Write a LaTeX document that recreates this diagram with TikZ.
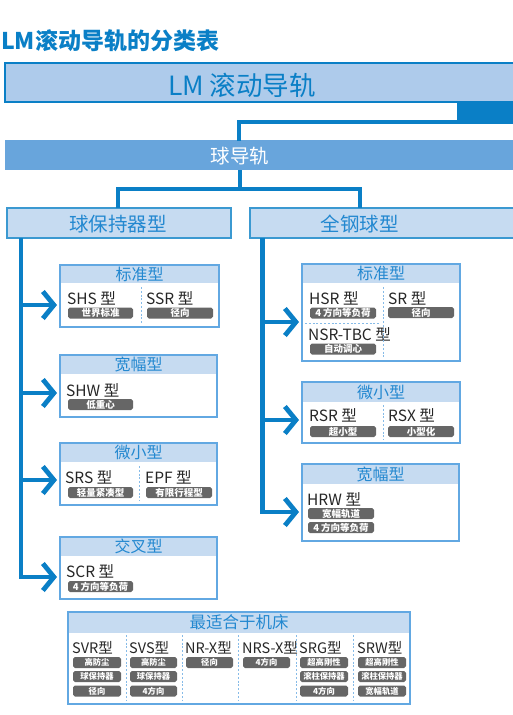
\documentclass[tikz,border=0pt]{standalone}
\usepackage{fontspec}
\setmainfont{Noto Sans CJK SC}
\usetikzlibrary{arrows.meta}
\definecolor{mblue}{HTML}{0A7FC6}
\definecolor{topfill}{HTML}{AECBEB}
\definecolor{barfill}{HTML}{68A5DC}
\definecolor{hdrfill}{HTML}{C6DBF1}
\definecolor{boxline}{HTML}{62A8E2}
\definecolor{hdrtext}{HTML}{2388D0}
\definecolor{graylab}{HTML}{666666}
\definecolor{sepblue}{HTML}{86BBE8}
\newcommand\glab[5]{\node[lab,minimum width=#4] (#1) at (#2,#3) {#5};}
\newcommand\mtxt[4]{\node[mt,anchor=west] (#1) at (#2,#3) {#4};}
\begin{document}
\begin{tikzpicture}[x=1pt,y=-1pt,
  conn/.style={draw=mblue,line width=4.6pt},
  arr/.style={conn,-{Straight Barb[length=11pt,width=27pt,line width=4.8pt]}},
  hdr/.style={fill=hdrfill,inner sep=0pt,text=hdrtext,font=\fontsize{16}{17}\selectfont},
  cbox/.style={draw=boxline,line width=1.6pt,inner sep=0pt},
  lab/.style={fill=graylab,text=white,rounded corners=1.8pt,inner sep=0pt,minimum height=11pt,font=\fontsize{9.5}{10}\selectfont\bfseries},
  blab/.style={lab,font=\fontsize{8.3}{9}\selectfont\bfseries},
  mt/.style={inner sep=0pt,font=\fontsize{15.5}{16}\selectfont,text=black!85},
  bt/.style={inner sep=0pt,font=\fontsize{14.5}{15}\selectfont,text=black!85,anchor=west},
  sep/.style={draw=sepblue,line width=0.9pt,dash pattern=on 2pt off 1.8pt}]
\useasboundingbox (0,0) rectangle (513,715);
% title
\node[anchor=west,inner sep=0pt,text=mblue,font=\fontsize{23}{24}\selectfont\bfseries] (title) at (1,41) {LM滚动导轨的分类表};
% top box
\node[draw=mblue,line width=1.6pt,fill=topfill,minimum width=525,minimum height=39,inner sep=0pt] (top) at (267.5,82.5) {};
\node[inner sep=0pt,text=mblue,font=\fontsize{26.5}{27}\selectfont] (toptxt) at (242,85) {LM 滚动导轨};
\node[fill=mblue,minimum width=60,minimum height=22,inner sep=0pt] (tab) at (487,113) {};
% ball bar
\node[fill=barfill,minimum width=520,minimum height=30,inner sep=0pt] (ball) at (265,155) {};
\node[inner sep=0pt,text=white,font=\fontsize{19.5}{20}\selectfont] (balltxt) at (240,156) {球导轨};
\coordinate (t1) at (459,122);
\coordinate (t2) at (239,141);
\draw[conn] (t1) -| (t2);
% level 2
\node[draw=mblue!80,line width=1.6pt,fill=hdrfill,minimum width=224,minimum height=30,inner sep=0pt] (qb) at (119,223) {};
\node[inner sep=0pt,text=hdrtext,font=\fontsize{19.5}{20}\selectfont] (qbtxt) at (118,224) {球保持器型};
\node[draw=mblue!80,line width=1.6pt,fill=hdrfill,minimum width=280,minimum height=30,inner sep=0pt] (qg) at (390,223) {};
\node[inner sep=0pt,text=hdrtext,font=\fontsize{19.5}{20}\selectfont] (qgtxt) at (359.5,224) {全钢球型};
\coordinate (c0) at (240,170);
\coordinate (c1) at (118,208);
\coordinate (c2) at (360,208);
\draw[conn] (c0) -- (240,189);
\draw[conn] (c1) -- ++(0,-19) -| (c2);
% ---------- left boxes
\node[hdr,minimum width=159,minimum height=18] (lstdh) at (139.5,274) {标准型};
\node[cbox,minimum width=159,minimum height=62] (lstd) at (139.5,296) {};
\mtxt{shs}{67}{298}{SHS 型}
\mtxt{ssr}{146}{298}{SSR 型}
\glab{l1}{100.5}{313}{65}{世界标准}
\glab{l2}{180}{313}{66}{径向}
\draw[sep] (141,287) -- (141,323);

\node[hdr,minimum width=157,minimum height=19] (lwideh) at (138.5,364.5) {宽幅型};
\node[cbox,minimum width=157,minimum height=62] (lwide) at (138.5,386) {};
\mtxt{shw}{66}{390}{SHW 型}
\glab{l3}{100.5}{404.5}{65}{低重心}

\node[hdr,minimum width=157,minimum height=19] (lmich) at (138.5,452.5) {微小型};
\node[cbox,minimum width=157,minimum height=62] (lmic) at (138.5,474) {};
\mtxt{srs}{65}{477}{SRS 型}
\mtxt{epf}{145}{477}{EPF 型}
\glab{l4}{100.5}{492.5}{65}{轻量紧凑型}
\glab{l5}{179}{492.5}{66}{有限行程型}
\draw[sep] (139,466) -- (139,501);

\node[hdr,minimum width=157,minimum height=19] (lcrsh) at (138.5,546.5) {交叉型};
\node[cbox,minimum width=157,minimum height=62] (lcrs) at (138.5,568) {};
\mtxt{scr}{66}{571}{SCR 型}
\glab{l6}{100.5}{586.5}{65}{4 方向等负荷}
% left trunk and arrows
\coordinate (lt) at (21,238);
\coordinate (la1) at (57,305);
\coordinate (la2) at (57,393);
\coordinate (la3) at (57,480);
\coordinate (la4) at (57,577);
\draw[arr] (lt) |- (la4);
\draw[arr] (lt |- la1) -- (la1);
\draw[arr] (lt |- la2) -- (la2);
\draw[arr] (lt |- la3) -- (la3);
% ---------- right boxes
\node[hdr,minimum width=158,minimum height=19] (rstdh) at (381,273.5) {标准型};
\node[cbox,minimum width=158,minimum height=97] (rstd) at (381,312.5) {};
\mtxt{hsr}{309}{298}{HSR 型}
\mtxt{sr}{388}{298}{SR 型}
\mtxt{nsr}{308}{334}{NSR-TBC 型}
\glab{r1}{343}{313}{66}{4 方向等负荷}
\glab{r2}{421}{312.5}{66}{径向}
\glab{r3}{343}{349}{66}{自动调心}
\draw[sep] (383,287) -- (383,357);
\draw[sep] (305,323) -- (380,323);

\node[hdr,minimum width=158,minimum height=20] (rmich) at (381,392) {微小型};
\node[cbox,minimum width=158,minimum height=61] (rmic) at (381,412.5) {};
\mtxt{rsr}{309}{415}{RSR 型}
\mtxt{rsx}{388}{415}{RSX 型}
\glab{r4}{343}{431.5}{66}{超小型}
\glab{r5}{421}{431.5}{66}{小型化}
\draw[sep] (383,405) -- (383,440);

\node[hdr,minimum width=157,minimum height=20] (rwideh) at (380.5,474) {宽幅型};
\node[cbox,minimum width=157,minimum height=77] (rwide) at (380.5,502.5) {};
\mtxt{hrw}{307}{499}{HRW 型}
\glab{r6}{341}{513.5}{66}{宽幅轨道}
\glab{r7}{341}{527.5}{66}{4 方向等负荷}
% right trunk and arrows
\coordinate (rt) at (262.5,238);
\coordinate (ra1) at (299,322);
\coordinate (ra2) at (299,420);
\coordinate (ra3) at (299,512);
\draw[arr] (rt) |- (ra3);
\draw[arr] (rt |- ra1) -- (ra1);
\draw[arr] (rt |- ra2) -- (ra2);
% ---------- bottom box
\node[hdr,minimum width=342,minimum height=21,font=\fontsize{16.5}{17}\selectfont] (mth) at (239,622.5) {最适合于机床};
\node[cbox,minimum width=342,minimum height=92] (mt) at (239,658) {};
\node[bt] (svr) at (72,648) {SVR型};
\node[bt] (svs) at (129,648) {SVS型};
\node[bt] (nrx) at (185,648) {NR-X型};
\node[bt] (nrsx) at (242,648) {NRS-X型};
\node[bt] (srg) at (299,648) {SRG型};
\node[bt] (srw) at (357,648) {SRW型};
\foreach \x in {126,182,238,296,353} \draw[sep] (\x,635) -- (\x,700);
\node[blab,minimum width=48] (b11) at (97,662.5) {高防尘};
\node[blab,minimum width=48] (b12) at (97,676.5) {球保持器};
\node[blab,minimum width=48] (b13) at (97,691) {径向};
\node[blab,minimum width=47] (b21) at (153.5,662.5) {高防尘};
\node[blab,minimum width=47] (b22) at (153.5,676.5) {球保持器};
\node[blab,minimum width=47] (b23) at (153.5,691) {4方向};
\node[blab,minimum width=47] (b31) at (209.5,662.5) {径向};
\node[blab,minimum width=47] (b41) at (266.5,662.5) {4方向};
\node[blab,minimum width=48] (b51) at (324,662.5) {超高刚性};
\node[blab,minimum width=48] (b52) at (324,676.5) {滚柱保持器};
\node[blab,minimum width=48] (b53) at (324,691) {4方向};
\node[blab,minimum width=48] (b61) at (382,662.5) {超高刚性};
\node[blab,minimum width=48] (b62) at (382,676.5) {滚柱保持器};
\node[blab,minimum width=48] (b63) at (382,691) {宽幅轨道};
\end{tikzpicture}
\end{document}
